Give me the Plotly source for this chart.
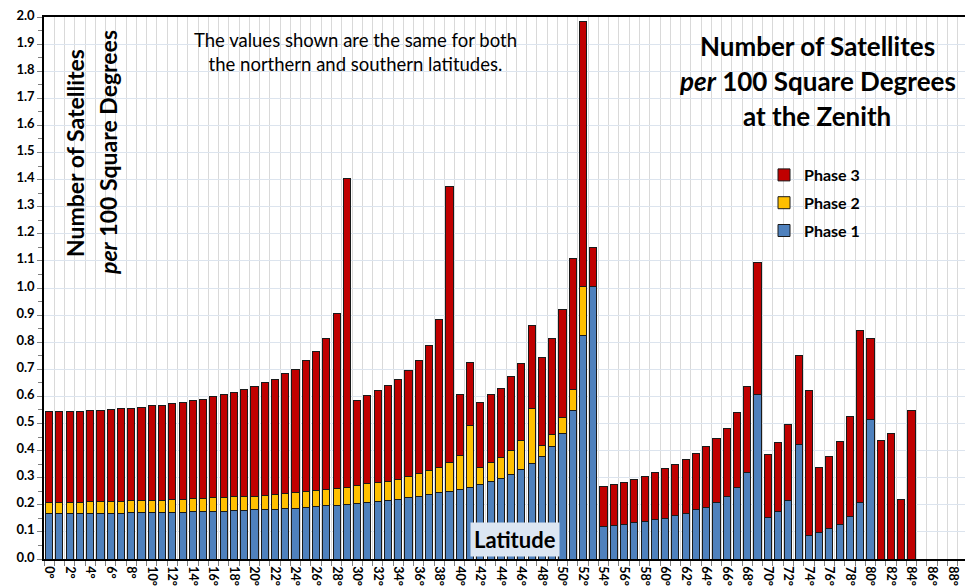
import plotly.graph_objects as go

latitudes = list(range(90))

phase1 = [0.167, 0.167, 0.167, 0.167, 0.167, 0.167, 0.168, 0.169, 0.170, 0.171,
          0.171, 0.172, 0.173, 0.173, 0.174, 0.175, 0.176, 0.177, 0.178, 0.180,
          0.181, 0.183, 0.184, 0.185, 0.188, 0.191, 0.194, 0.196, 0.199, 0.202,
          0.205, 0.210, 0.213, 0.216, 0.221, 0.227, 0.232, 0.237, 0.244, 0.249,
          0.256, 0.265, 0.276, 0.287, 0.298, 0.312, 0.331, 0.351, 0.378, 0.414,
          0.464, 0.547, 0.823, 1.006, 0.120, 0.123, 0.129, 0.135, 0.140, 0.146,
          0.151, 0.160, 0.169, 0.181, 0.191, 0.210, 0.230, 0.263, 0.320, 0.606,
          0.155, 0.177, 0.215, 0.422, 0.087, 0.098, 0.113, 0.129, 0.157, 0.210,
          0.513, 0, 0, 0, 0, 0, 0, 0, 0, 0]

phase2 = [0.043, 0.043, 0.043, 0.043, 0.045, 0.045, 0.044, 0.043, 0.045, 0.044,
          0.044, 0.043, 0.045, 0.045, 0.048, 0.047, 0.050, 0.049, 0.051, 0.052,
          0.051, 0.052, 0.054, 0.055, 0.058, 0.058, 0.057, 0.061, 0.061, 0.063,
          0.066, 0.067, 0.069, 0.071, 0.074, 0.077, 0.083, 0.089, 0.095, 0.106,
          0.125, 0.226, 0.062, 0.068, 0.076, 0.087, 0.105, 0.206, 0.041, 0.046,
          0.057, 0.077, 0.181, 0, 0, 0, 0, 0, 0, 0,
          0, 0, 0, 0, 0, 0, 0, 0, 0, 0,
          0, 0, 0, 0, 0, 0, 0, 0, 0, 0,
          0, 0, 0, 0, 0, 0, 0, 0, 0, 0]

phase3 = [0.335, 0.335, 0.335, 0.335, 0.336, 0.336, 0.339, 0.342, 0.341, 0.345,
          0.350, 0.353, 0.355, 0.360, 0.362, 0.367, 0.372, 0.380, 0.384, 0.392,
          0.403, 0.415, 0.425, 0.443, 0.455, 0.482, 0.514, 0.558, 0.647, 1.138,
          0.315, 0.325, 0.338, 0.352, 0.368, 0.390, 0.418, 0.463, 0.546, 1.018,
          0.226, 0.233, 0.241, 0.251, 0.257, 0.273, 0.286, 0.303, 0.325, 0.355,
          0.399, 0.484, 0.979, 0.144, 0.147, 0.153, 0.155, 0.160, 0.165, 0.174,
          0.183, 0.189, 0.198, 0.208, 0.224, 0.234, 0.253, 0.278, 0.315, 0.489,
          0.231, 0.254, 0.282, 0.329, 0.535, 0.238, 0.265, 0.304, 0.370, 0.634,
          0.302, 0.437, 0.464, 0.220, 0.547, 0, 0, 0, 0, 0]

tick_values = latitudes[::2]
tick_labels = [f"{d}°" for d in tick_values]

series_names = ["Phase 1", "Phase 2", "Phase 3"]
series_colors = ["#4F81BD", "#FFC000", "#C00000"]
legend_ranks = [3, 2, 1]

# page body has an 8px margin; the figure is sized so that it fits the window
OFF = 8
W, H = 965, 580
ML, MR, MT, MB = 36, 5, 9, 29
PW, PH = W - ML - MR, H - MT - MB


def px(x):
    return (x - OFF - ML) / PW


def py(y):
    return (H - MB - (y - OFF)) / PH


FONT = "Lato"

fig = go.Figure()
for name, vals, col, rk in zip(series_names, [phase1, phase2, phase3], series_colors, legend_ranks):
    fig.add_trace(go.Bar(
        x=latitudes, y=vals, name=name, legendgroup=name, legendrank=rk,
        marker=dict(color=col, line=dict(color="#1a1a1a", width=1)),
    ))

fig.update_layout(
    width=W, height=H,
    margin=dict(l=ML, r=MR, t=MT, b=MB),
    barmode="stack", bargap=0.3,
    plot_bgcolor="white", paper_bgcolor="white",
    font=dict(family=FONT, color="black"),
    showlegend=True,
    legend=dict(
        x=px(764), y=py(158), xanchor="left", yanchor="top",
        traceorder="grouped", tracegroupgap=4,
        font=dict(size=16, family=FONT, weight="bold"),
        bgcolor="rgba(255,255,255,0)",
    ),
)

fig.update_xaxes(
    range=[-0.5, 89.5], automargin=False,
    tickmode="array", tickvals=tick_values, ticktext=tick_labels,
    tickangle=90, tickfont=dict(size=12.5, family=FONT, weight="bold"),
    ticklabelstandoff=3, ticklabeloverflow="allow",
    showgrid=False, ticks="",
    showline=True, linecolor="black", linewidth=1.5, mirror=True,
    minor=dict(tickmode="array", tickvals=[v - 0.5 for v in latitudes] + [89.5],
               showgrid=True, gridcolor="#d9d9d9", gridwidth=1,
               ticks="outside", ticklen=5, tickcolor="#808080"),
    zeroline=False,
)

fig.update_yaxes(
    range=[0, 2.0], dtick=0.1, tick0=0, tickformat=".1f", automargin=False,
    tickfont=dict(size=13, family=FONT, weight="bold"),
    ticklabeloverflow="allow", ticklabelshift=-2,
    showgrid=True, gridcolor="#dce4ee", gridwidth=1,
    ticks="outside", ticklen=5, tickcolor="#808080",
    minor=dict(dtick=0.05, ticks="outside", ticklen=4, tickcolor="#808080", showgrid=False),
    showline=True, linecolor="black", linewidth=1.5,
    zeroline=False,
)

# white boxes behind text blocks (above gridlines, below bars)
for (x0, y0, x1, y1) in [(688, 24, 962, 134), (185, 24, 528, 76), (60, 30, 124, 278)]:
    fig.add_shape(type="rect", xref="paper", yref="paper",
                  x0=px(x0), x1=px(x1), y0=py(y1), y1=py(y0),
                  fillcolor="white", line=dict(width=0), layer="between")

ann = []
for txt, yy in [("Number of Satellites", 46),
                ("<i>per</i> 100 Square Degrees", 81),
                ("at the Zenith", 116)]:
    ann.append(dict(text=txt, x=px(817), y=py(yy), xref="paper", yref="paper",
                    xanchor="center", yanchor="middle", showarrow=False,
                    font=dict(size=26, family=FONT, weight="bold", color="black")))

for txt, xx in [("Number of Satellites", 75), ("<i>per</i> 100 Square Degrees", 108)]:
    ann.append(dict(text=txt, x=px(xx), y=py(153), xref="paper", yref="paper",
                    xanchor="center", yanchor="middle", textangle=-90, showarrow=False,
                    font=dict(size=23, family=FONT, weight="bold", color="black")))

ann.append(dict(text="The values shown are the same for both<br>the northern and southern latitudes.",
                x=px(355), y=py(52), xref="paper", yref="paper",
                xanchor="center", yanchor="middle", showarrow=False,
                font=dict(size=18.5, family=FONT, color="black")))

ann.append(dict(text="Latitude", x=px(515), y=py(539), xref="paper", yref="paper",
                xanchor="center", yanchor="middle", showarrow=False,
                bgcolor="#dce6f2", borderpad=3,
                font=dict(size=22, family=FONT, weight="bold", color="black")))

fig.update_layout(annotations=ann)

fig.write_html("out.html")
